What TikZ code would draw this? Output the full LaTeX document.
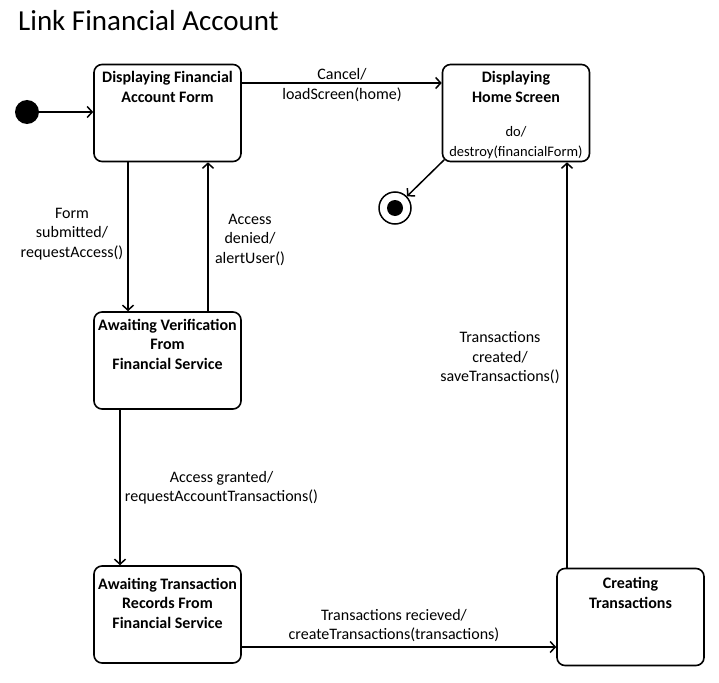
\documentclass[tikz,border=0pt]{standalone}
\usepackage{fontspec}
\setmainfont{Carlito}
\usetikzlibrary{arrows.meta}
\def\statetext[#1]#2{\parbox[c][83pt][t]{146pt}{\centering\fontsize{16}{19.5}\selectfont\bfseries\vspace*{#1}#2}}

\begin{document}
\begin{tikzpicture}[x=1pt,y=-1pt,
		state/.style={draw, line width=1.6pt, rounded corners=8pt, inner sep=0pt, minimum width=147pt, minimum height=97pt},
		trans/.style={line width=1.5pt, -{Straight Barb[length=5pt,width=11pt]}},
		lbl/.style={align=center, font=\fontsize{16}{19.5}\selectfont, inner sep=0pt}]
			%%%%% START %%%%%
			
			\useasboundingbox (0,0) rectangle (719,682);
			\node[anchor=base west, font=\fontsize{29}{34}\selectfont, inner sep=0pt] (title) at (18,31) {Link Financial Account};
			
			\node[state] (form) at (167.5,113) {\statetext[0pt]{Displaying Financial\\Account Form}};
			\node[state] (home) at (516,113) {\statetext[0pt]{Displaying\\Home Screen\\[15pt]\mdseries\fontsize{14.5}{19.5}\selectfont do/\\destroy(financialForm)}};
			\node[state] (verify) at (167.5,360.5) {\statetext[0pt]{Awaiting Verification\\From\\Financial Service}};
			\node[state] (records) at (167.5,614.5) {\statetext[5pt]{Awaiting Transaction\\Records From\\Financial Service}};
			\node[state] (create) at (630.5,617) {\statetext[2pt]{Creating\\Transactions}};
			
			\node[circle, fill=black, inner sep=0pt, minimum size=24pt] (start) at (27,112) {};
			\node[circle, draw, line width=1.5pt, inner sep=0pt, minimum size=32pt,
				path picture={\fill (path picture bounding box.center) circle (8pt);}] (end) at (395,208) {};
			
			\draw[trans] (start) -- (start -| form.west);
			\draw[trans] ([yshift=30pt]form.east) -- ([yshift=30pt]home.west);
			\draw[trans] ([xshift=-39.5pt]form.south) -- ([xshift=-39.5pt]verify.north);
			\draw[trans] ([xshift=40.5pt]verify.north) -- ([xshift=40.5pt]form.south);
			\draw[trans] ([xshift=-47.5pt]verify.south) -- ([xshift=-47.5pt]records.north);
			\draw[trans] ([yshift=-32.5pt]records.east) -- ([yshift=-32.5pt]records.east -| create.west);
			\draw[trans] ([xshift=-63.5pt]create.north) -- ([xshift=-63.5pt]create.north |- home.south);
			\draw[trans] ([shift={(2.5pt,2.5pt)}]home.south west) -- (end);
			
			\node[lbl] (cancel) at (342,85) {Cancel/\\loadScreen(home)};
			\node[lbl] (submit) at (72,234) {Form\\submitted/\\requestAccess()};
			\node[lbl] (denied) at (250,239.5) {Access\\denied/\\alertUser()};
			\node[lbl] (granted) at (221.5,487.5) {Access granted/\\requestAccountTransactions()};
			\node[lbl] (received) at (394,625.5) {Transactions recieved/\\createTransactions(transactions)};
			\node[lbl] (created) at (500,358) {Transactions\\created/\\saveTransactions()};
			
			%%%%% END %%%%%
\end{tikzpicture}
\end{document}
